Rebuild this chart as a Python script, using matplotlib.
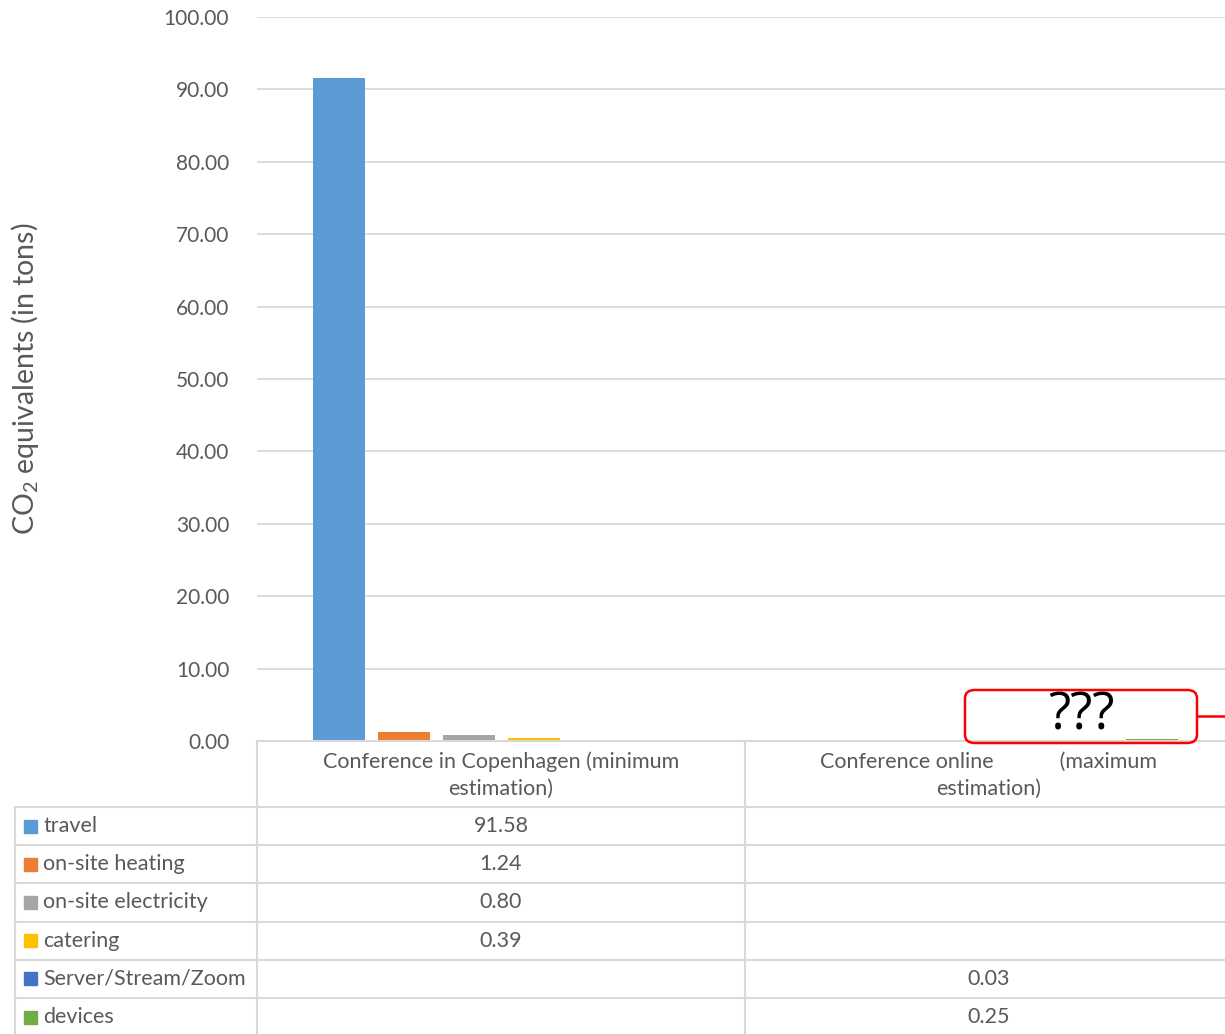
import numpy as np
import matplotlib.pyplot as plt
from matplotlib.patches import FancyBboxPatch, Rectangle
from matplotlib.lines import Line2D

plt.rcParams['font.family'] = ['Lato', 'DejaVu Sans']
plt.rcParams['mathtext.default'] = 'regular'

# data
categories = ['Conference in Copenhagen (minimum\nestimation)',
              'Conference online            (maximum\nestimation)']
series = ['travel', 'on-site heating', 'on-site electricity', 'catering',
          'Server/Stream/Zoom', 'devices']
values = [
    [91.58, None],
    [1.24, None],
    [0.80, None],
    [0.39, None],
    [None, 0.03],
    [None, 0.25],
]
colors = ['#5B9BD5', '#ED7D31', '#A5A5A5', '#FFC000', '#4472C4', '#70AD47']
yticks = np.arange(0, 101, 10)

W, H = 1225, 1034
TXT = '#595959'
GRID = '#D9D9D9'
FS = 15.5


def fx(x):
    return x / W


def fy(y):
    return 1 - y / H


fig = plt.figure(figsize=(W / 100, H / 100), dpi=100)

# plot area: x 257..1233 px, y 17..741 px
ax = fig.add_axes([fx(257), fy(741), fx(1233 - 257), (741 - 17) / H])
ax.set_xlim(-0.5, 1.5)
ax.set_ylim(0, 100)
slot = 65 / 488
bw = 52 / 488
for i, (name, vals, c) in enumerate(zip(series, values, colors)):
    for j, v in enumerate(vals):
        if v is None:
            continue
        ax.bar(j + (i - 2.5) * slot, v, width=bw, color=c, zorder=3)
for s in ax.spines.values():
    s.set_visible(False)
ax.set_yticks(yticks)
ax.set_yticklabels([f'{t:.2f}' for t in yticks], fontsize=15, color=TXT)
ax.tick_params(axis='y', length=0, pad=20)
ax.set_xticks([])
ax.grid(axis='y', color=GRID, linewidth=1.3, zorder=0)
ax.set_axisbelow(True)

fig.text(fx(25), fy(379), 'CO$_2$ equivalents (in tons)', rotation=90,
         fontsize=20.5, color=TXT, ha='center', va='center')


# data table below the plot
def hline(y, x0, x1):
    fig.add_artist(Line2D([fx(x0), fx(x1)], [fy(y), fy(y)], color=GRID, lw=1.5))


def vline(x, y0, y1):
    fig.add_artist(Line2D([fx(x), fx(x)], [fy(y0), fy(y1)], color=GRID, lw=1.5))


row_top = 807
row_h = 38.2
hline(741, 257, 1233)
for k in range(len(series) + 1):
    hline(row_top + k * row_h, 15, 1233)
vline(15, row_top, H + 5)
vline(257, 741, H + 5)
vline(745, 741, H + 5)

col_centers = [501, 989]
for j, cat in enumerate(categories):
    fig.text(fx(col_centers[j]), fy(775), cat, ha='center', va='center',
             fontsize=FS, color=TXT, linespacing=1.45)

for i, (name, vals, c) in enumerate(zip(series, values, colors)):
    yc = row_top + (i + 0.5) * row_h
    fig.add_artist(Rectangle((fx(24), fy(yc + 6.5)), fx(13), 13 / H,
                             color=c, transform=fig.transFigure))
    fig.text(fx(43), fy(yc), name, ha='left', va='center', fontsize=FS, color=TXT)
    for j, v in enumerate(vals):
        if v is not None:
            fig.text(fx(col_centers[j]), fy(yc), f'{v:.2f}', ha='center',
                     va='center', fontsize=FS, color=TXT)

# red annotation box
box = FancyBboxPatch((fx(965), fy(743)), fx(232), 53 / H,
                     boxstyle='round,pad=0,rounding_size=0.008',
                     transform=fig.transFigure, facecolor='none',
                     edgecolor='#FF0000', lw=1.8, zorder=10)
fig.add_artist(box)
fig.text(fx(1081), fy(716), '???', ha='center', va='center', fontsize=37,
         color='black', family=['Open Sans', 'DejaVu Sans'])
fig.add_artist(Line2D([fx(1197), fx(1230)], [fy(716), fy(716)],
                      color='#FF0000', lw=1.8))

fig.savefig('out.png', dpi=100)
